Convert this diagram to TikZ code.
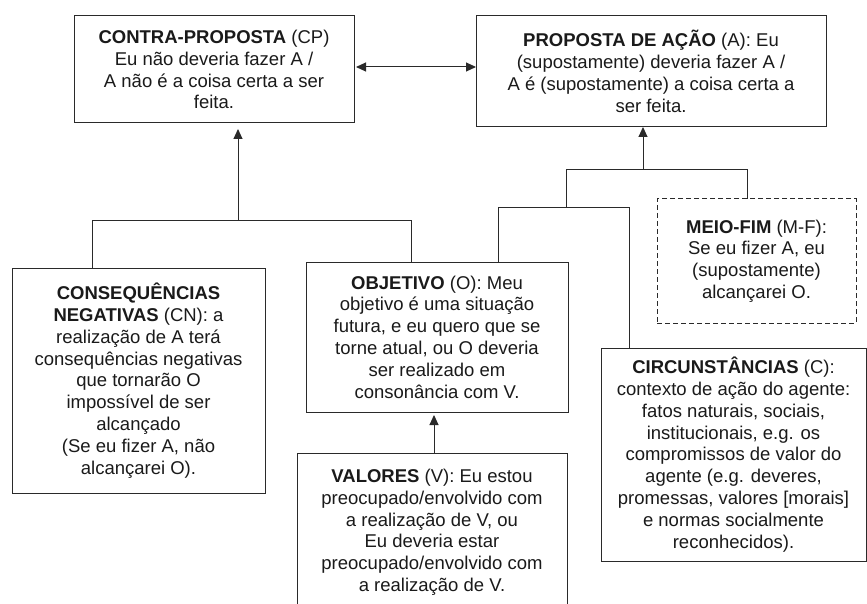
\documentclass[tikz,border=0pt]{standalone}
\usepackage{fontspec}
\setmainfont{Liberation Sans}
\usetikzlibrary{arrows.meta}
\definecolor{linec}{HTML}{2A2A2A}
\definecolor{txt}{HTML}{1A1A1A}
\begin{document}
\begin{tikzpicture}[x=1pt,y=-1pt,
  box/.style={draw=linec, line width=1pt, align=center, inner sep=0pt, outer sep=0pt,
    font=\fontsize{18.5}{21.8}\selectfont, text=txt, fill=white},
  conn/.style={draw=linec, line width=1pt},
  arr/.style={conn, -{Triangle[length=10pt,width=9pt]}},
  dbl/.style={conn, {Triangle[length=10pt,width=9pt]}-{Triangle[length=10pt,width=9pt]}}]
\useasboundingbox (0,0) rectangle (867,604);
\fill[white] (0,0) rectangle (867,604);
\clip (0,0) rectangle (867,604);

\node[box, minimum width=280pt, minimum height=107pt] (CP) at (214,69.5)
 {\textbf{CONTRA-PROPOSTA} (CP)\\Eu não deveria fazer A /\\A não é a coisa certa a ser\\feita.};
\node[box, minimum width=350pt, minimum height=111pt] (A) at (651,71.5)
 {\textbf{PROPOSTA DE AÇÃO} (A): Eu\\(supostamente) deveria fazer A /\\A é (supostamente) a coisa certa a\\ser feita.};
\node[box, minimum width=253pt, minimum height=225pt] (CN) at (138.5,380.5)
 {\textbf{CONSEQUÊNCIAS}\\\textbf{NEGATIVAS} (CN): a\\realização de A terá\\consequências negativas\\que tornarão O\\impossível de ser\\alcançado\\(Se eu fizer A, não\\alcançarei O).};
\node[box, minimum width=262pt, minimum height=150pt] (OBJ) at (437,337)
 {\textbf{OBJETIVO} (O): Meu\\objetivo é uma situação\\futura, e eu quero que se\\torne atual, ou O deveria\\ser realizado em\\consonância com V.};
\node[box, minimum width=270pt, anchor=north, inner ysep=16pt] (VAL) at (432,453)
 {\textbf{VALORES} (V): Eu estou\\preocupado/envolvido com\\a realização de V, ou\\Eu deveria estar\\preocupado/envolvido com\\a realização de V.};
\node[box, dashed, dash pattern=on 5pt off 3pt, minimum width=199pt, minimum height=124pt] (MF) at (756.5,261)
 {\textbf{MEIO-FIM} (M-F):\\Se eu fizer A, eu\\(supostamente)\\alcançarei O.};
\node[box, minimum width=265pt, minimum height=213pt] (C) at (733.5,454.5)
 {\textbf{CIRCUNSTÂNCIAS} (C):\\contexto de ação do agente:\\fatos naturais, sociais,\\institucionais, e.g. os\\compromissos de valor do\\agente (e.g. deveres,\\promessas, valores [morais]\\e normas socialmente\\reconhecidos).};

% double arrow CP <-> A
\coordinate (h0) at (0,67);
\draw[dbl, shorten <=2pt] (CP.east |- h0) -- (A.west |- h0);

% bracket CN + OBJ -> CP
\coordinate (b1) at (238,220);
\coordinate (b1L) at (92,220);
\coordinate (b1R) at (411,220);
\draw[conn] (b1L |- CN.north) -- (b1L) -- (b1R) -- (b1R |- OBJ.north);
\draw[arr, shorten >=6pt] (b1) -- (b1 |- CP.south);

% VAL -> OBJ
\coordinate (v1) at (434,0);
\draw[arr, shorten >=3pt] (v1 |- VAL.north) -- (v1 |- OBJ.south);

% bracket to A
\coordinate (b2) at (643,170);
\coordinate (b2L) at (566,170);
\coordinate (b2R) at (747,170);
\coordinate (b3L) at (498,208);
\coordinate (b3R) at (629,208);
\coordinate (b3M) at (566,208);
\draw[conn] (b3M) -- (b2L) -- (b2R) -- (b2R |- MF.north);
\draw[conn] (b3L |- OBJ.north) -- (b3L) -- (b3R) -- (b3R |- C.north);
\draw[arr] (b2) -- (b2 |- A.south);
\end{tikzpicture}
\end{document}
